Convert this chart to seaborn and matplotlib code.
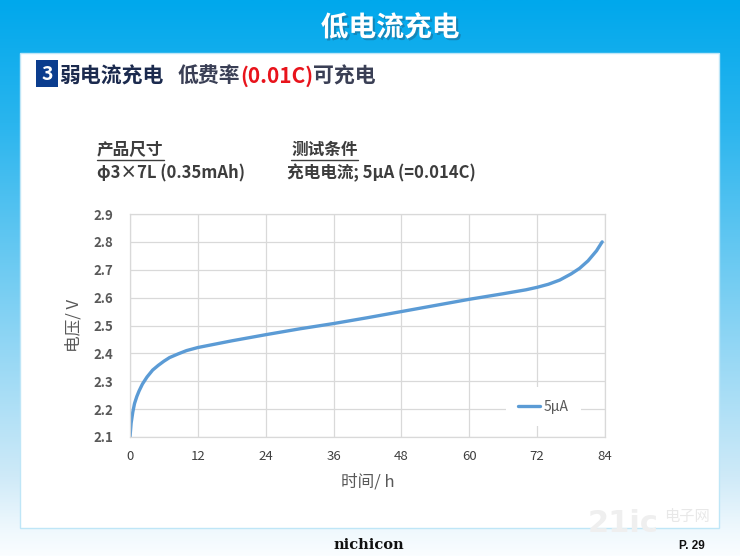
import numpy as np
import pandas as pd
import matplotlib
matplotlib.use("Agg")
import matplotlib.pyplot as plt
import matplotlib.patheffects as pe
from matplotlib.patches import Rectangle
from matplotlib.colors import LinearSegmentedColormap
import seaborn as sns

# charge curve (hours, volts)
hours = [0, 0.2, 0.5, 0.8, 1.2, 1.6, 2.2, 3, 4, 5, 6, 7, 8.5, 10, 12, 15, 18,
         24, 30, 36, 42, 48, 54, 60, 66, 70, 72, 74, 76, 78, 79.5, 81, 82.5, 83.5]
volts = [2.10, 2.15, 2.19, 2.22, 2.245, 2.265, 2.29, 2.315, 2.34, 2.357, 2.372,
         2.385, 2.398, 2.41, 2.421, 2.433, 2.445, 2.467, 2.488, 2.507, 2.528,
         2.55, 2.572, 2.594, 2.614, 2.628, 2.637, 2.648, 2.663, 2.685, 2.705,
         2.732, 2.768, 2.80]
series_name = "5μA"
x_ticks = [0, 12, 24, 36, 48, 60, 72, 84]
y_ticks = [2.1, 2.2, 2.3, 2.4, 2.5, 2.6, 2.7, 2.8, 2.9]

sns.set_style("white")
plt.rcParams['font.family'] = ['Noto Sans CJK SC', 'DejaVu Sans']

W, H = 740, 556
fig = plt.figure(figsize=(W / 100, H / 100), dpi=100)
renderer = fig.canvas.get_renderer()


def px(x, y):
    return x / W, 1 - y / H


# slide background: blue gradient and white panel
bg = fig.add_axes([0, 0, 1, 1], zorder=-10)
grad_cmap = LinearSegmentedColormap.from_list(
    "bg", [(0, "#00a8ec"), (0.22, "#2ab5ee"), (0.86, "#cfeaf8"),
           (0.95, "#eef8fd"), (1, "#fafdff")])
bg.imshow(np.linspace(0, 1, 256)[:, None], aspect="auto", cmap=grad_cmap,
          extent=[0, W, H, 0])
bg.add_patch(Rectangle((20, 53), 699, 475, facecolor="white",
                       edgecolor="#bfe6f7", lw=1))
bg.add_patch(Rectangle((36, 60), 22, 27, facecolor="#0b3d8e", edgecolor="none"))
bg.set_xlim(0, W)
bg.set_ylim(H, 0)
bg.axis("off")

# titles
fig.text(*px(390, 28), "低电流充电", color="white", fontsize=20,
         fontweight="bold", ha="center", va="center",
         path_effects=[pe.withSimplePatchShadow(offset=(1.5, -1.5),
                                                shadow_rgbFace="#1b6f9a", alpha=0.6)])
fig.text(*px(47, 74), "3", color="white", fontsize=14, fontweight="bold",
         ha="center", va="center")

# header line built piece by piece so the colours can change mid-line
header_parts = [("弱电流充电", "#1b2a4e", 0), ("低费率", "#3a3f55", 14),
                ("(0.01C)", "#e8141c", 0), ("可充电", "#3a3f55", 0)]
x_cur = 59
for txt, col, gap in header_parts:
    x_cur += gap
    t = fig.text(*px(x_cur, 76), txt, color=col, fontsize=15,
                 fontweight="bold", va="center")
    x_cur += t.get_window_extent(renderer).width

spec_color = "#3d3d3d"
fig.text(*px(97, 150), "产品尺寸", color=spec_color, fontsize=12,
         fontweight="bold", va="center")
fig.text(*px(97, 173), "φ3×7L (0.35mAh)", color=spec_color, fontsize=12,
         fontweight="bold", va="center")
fig.text(*px(291, 150), "测试条件", color=spec_color, fontsize=12,
         fontweight="bold", va="center")
fig.text(*px(287, 173), "充电电流; 5μA (=0.014C)", color=spec_color,
         fontsize=12, fontweight="bold", va="center")
bg.plot([97, 164], [160, 160], color=spec_color, lw=1)
bg.plot([291, 358], [160, 160], color=spec_color, lw=1)

# footer
fig.text(*px(588, 524), "21ic", color="#efefef", fontsize=22,
         fontweight="bold", va="center", family="DejaVu Sans")
fig.text(*px(664, 516), "电子网", color="#e8e8e8", fontsize=11,
         va="center")
fig.text(*px(369, 545), "nichicon", color="#111111", fontsize=10.5,
         fontweight="bold", ha="center", va="center", family="DejaVu Serif")
fig.text(*px(692, 546), "P. 29", color="#111111", fontsize=8.5,
         fontweight="bold", ha="center", va="center", family="Liberation Sans")

# chart
ax = fig.add_axes([130 / W, 1 - 437 / H, 475 / W, 223 / H])
df = pd.DataFrame({"时间": hours, "电压": volts, "series": series_name})
sns.lineplot(data=df, x="时间", y="电压", hue="series", ax=ax,
             palette=["#5b9bd5"], linewidth=2.4)
ax.set_xlim(0, 84)
ax.set_ylim(2.1, 2.9)
ax.set_xticks(x_ticks)
ax.set_yticks(y_ticks)
ax.set_yticklabels([f"{v:.1f}" for v in y_ticks])
ax.grid(True, color="#d9d9d9", lw=0.9)
ax.set_axisbelow(True)
for s in ax.spines.values():
    s.set_color("#d9d9d9")
    s.set_linewidth(0.9)
ax.tick_params(length=0, labelsize=9.5, colors="#595959")
ax.tick_params(axis="x", pad=9)
ax.tick_params(axis="y", pad=12)
for lab in ax.get_yticklabels():
    lab.set_fontweight("bold")
for lab in ax.get_xticklabels():
    lab.set_color("#404040")
ax.set_xlabel("时间/ h", fontsize=12, color="#595959", labelpad=8)
ax.set_ylabel("电压/ V", fontsize=12, color="#595959", labelpad=8)
leg = ax.legend(loc="center", bbox_to_anchor=(0.87, 0.135), frameon=True,
                facecolor="white", edgecolor="none", framealpha=1,
                fontsize=10, handlelength=1.6, handletextpad=0.2,
                borderpad=0.9)
for t in leg.get_texts():
    t.set_color("#595959")

fig.savefig("out.png", dpi=100)
